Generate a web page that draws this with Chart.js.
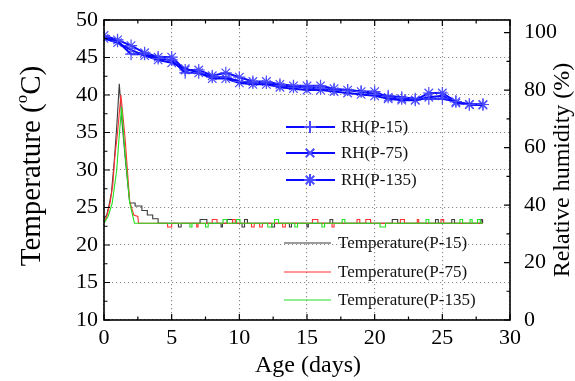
<!DOCTYPE html>
<html><head><meta charset="utf-8">
<script src="https://cdn.jsdelivr.net/npm/chart.js@4/dist/chart.umd.min.js"></script>
<style>html,body{margin:0;padding:0;background:#fff}#wrap{width:575px;height:381px;position:relative}</style>
</head><body><div id="wrap"><canvas id="c" width="575" height="381"></canvas></div>
<script>
// ---- data ----
const days = [0,1,2,3,4,5,6,7,8,9,10,11,12,13,14,15,16,17,18,19,20,21,22,23,24,25,26,27,28];
const rhP15  = [98.5,97,92.5,92.5,91,90.5,86,86,84.5,84.5,83,82.5,82.5,81.5,81,81,80.5,80,80,79.5,78.5,78,77.5,77,77,77,76,75,75];
const rhP75  = [98,96.5,94,92,90.5,89.5,87.5,86,84,84,82.5,82,82,81,80.5,80,80,79.5,79,78.5,78,77,76.5,76.5,77.5,78,75.5,75,74.8];
const rhP135 = [99,97.5,95.5,93,91.5,91.5,87,87,85,86,84.5,83,83,82,81.5,81.5,81.5,80.5,80,79.5,79.5,77.5,77,76.5,79,79,76,75,75];

// temperature: early heat peak (x = day, y = °C)
const tP15PeakX  = [0,0.2,0.35,0.55,0.75,0.95,1.13,1.35,1.6,1.9,2.3,2.3,2.8,2.8,3.2,3.2,3.6,3.6,4.0,4.0];
const tP15PeakY  = [23.5,24,25.1,27,31,36,41.5,36,31,25.6,25.6,25.2,25.2,24.6,24.6,24.0,24.0,23.5,23.5,22.9];
const tP75PeakX  = [0,0.2,0.45,0.65,0.8,1.0,1.25,1.55,1.9,2.2,2.5,2.55];
const tP75PeakY  = [22.9,23.8,25.6,28,31.7,35,40,34.4,25.8,24,23.8,22.9];
const tP135PeakX = [0,0.3,0.6,0.94,1.1,1.3,1.55,1.9,2.25];
const tP135PeakY = [22.9,23.8,25.5,30,34,38.4,32.3,25.6,22.9];
// temperature: baseline level and small logger blips [start day, end day, level]
const tBase = 22.9;
const tP15Blips  = [[5.5,5.7,22.4],[7.1,7.6,23.4],[8.65,8.75,22.4],[9.1,9.5,23.4],[10.2,10.35,22.4],[10.4,10.6,23.4],[12.4,12.6,22.4],[13.7,13.85,22.4],[15.0,15.1,22.4],[16.7,16.9,23.4],[21.3,21.7,23.4],[24.5,24.7,23.4],[25.7,25.9,23.4],[27.85,27.95,23.4]];
const tP75Blips  = [[4.7,5.0,22.4],[6.85,6.95,22.4],[8.0,8.35,23.4],[9.5,9.7,23.4],[10.9,11.1,22.4],[11.5,11.7,22.4],[13.2,13.4,22.4],[15.4,15.8,23.4],[16.85,17.0,22.4],[18.7,18.9,23.4],[19.35,19.7,23.4],[21.9,22.2,23.4],[23.15,23.25,23.4],[24.9,25.1,23.4]];
const tP135Blips = [[6.35,6.5,22.4],[7.5,7.7,22.4],[8.8,9.1,23.4],[9.8,10.05,23.4],[12.1,12.4,22.4],[12.6,12.9,23.4],[14.1,14.3,22.4],[16.1,16.3,22.4],[17.6,17.8,23.4],[20.4,20.8,22.4],[23.8,24.0,23.4],[26.3,26.5,23.4],[27.05,27.2,23.4],[27.6,27.8,23.4]];
const tEndDay = 28;

// ticks
const ageTicks = [0,5,10,15,20,25,30];
const ageMinor = [2.5,7.5,12.5,17.5,22.5,27.5];
const tempTicks = [10,15,20,25,30,35,40,45,50];
const tempMinor = [12.5,17.5,22.5,27.5,32.5,37.5,42.5,47.5];
const rhTicks = [0,20,40,60,80,100];
const rhMinor = [10,30,50,70,90];

const rhLabels = ['RH(P-15)','RH(P-75)','RH(P-135)'];
const tLabels = ['Temperature(P-15)','Temperature(P-75)','Temperature(P-135)'];

// ---- build tables ----
function tempSeries(px, py, blips){
  const pts = px.map((x,i)=>({x, y:py[i]}));
  blips.forEach(([s,e,l])=>{ pts.push({x:s,y:tBase},{x:s,y:l},{x:e,y:l},{x:e,y:tBase}); });
  pts.push({x:tEndDay,y:tBase});
  return pts;
}
const rhPts = arr => days.map((d,i)=>({x:d,y:arr[i]}));

const BLUE='#0a0aff', BLUE_M='#4a4aff';
const T_COLORS=['#3a3a3a','#ff3030','#22e022'];
const serif="'Liberation Serif','Times New Roman',serif";
Chart.defaults.font.family=serif;

const deco={
  id:'deco',
  afterDatasetsDraw(chart){
    const {ctx, chartArea:a, scales:{x,y,y1}}=chart;
    ctx.save();
    // inward ticks
    ctx.strokeStyle='#000'; ctx.lineWidth=1.2; ctx.beginPath();
    const tx=(vals,L)=>vals.forEach(v=>{const p=x.getPixelForValue(v);ctx.moveTo(p,a.bottom);ctx.lineTo(p,a.bottom-L);ctx.moveTo(p,a.top);ctx.lineTo(p,a.top+L);});
    const ty=(vals,L)=>vals.forEach(v=>{const p=y.getPixelForValue(v);ctx.moveTo(a.left,p);ctx.lineTo(a.left+L,p);});
    const tr=(vals,L)=>vals.forEach(v=>{const p=y1.getPixelForValue(v);ctx.moveTo(a.right,p);ctx.lineTo(a.right-L,p);});
    tx(ageTicks,6);tx(ageMinor,3.5);ty(tempTicks,6);ty(tempMinor,3.5);tr(rhTicks,6);tr(rhMinor,3.5);
    ctx.stroke();
    // frame
    ctx.lineWidth=1.6; ctx.strokeRect(a.left,a.top,a.right-a.left,a.bottom-a.top);
    // RH legend
    const rhStyles=['cross','crossRot','star'];
    const rhY=[127,153,180];
    ctx.font='17px '+serif; ctx.textBaseline='middle'; ctx.textAlign='left';
    rhY.forEach((yy,i)=>{
      ctx.strokeStyle=BLUE; ctx.lineWidth=2; ctx.beginPath(); ctx.moveTo(286,yy); ctx.lineTo(335,yy); ctx.stroke();
      ctx.strokeStyle=BLUE_M; ctx.fillStyle=BLUE_M;
      Chart.helpers.drawPoint(ctx,{pointStyle:rhStyles[i],radius:6,borderWidth:1.2,rotation:0},310,yy);
      ctx.fillStyle='#111'; ctx.fillText(rhLabels[i],341,yy+1);
    });
    const tY=[243,272,300];
    ctx.font='17px '+serif;
    tY.forEach((yy,i)=>{
      ctx.strokeStyle=T_COLORS[i]; ctx.lineWidth=1.2; ctx.beginPath(); ctx.moveTo(284,yy); ctx.lineTo(331,yy); ctx.stroke();
      ctx.fillStyle='#111'; ctx.fillText(tLabels[i],338,yy+1);
    });
    // axis titles
    ctx.fillStyle='#000';
    ctx.font='24px '+serif; ctx.textAlign='center'; ctx.textBaseline='middle';
    ctx.fillText('Age (days)',(a.left+a.right)/2+1,366);
    // left title with superscript o
    const F=29;
    ctx.save(); ctx.translate(32,166); ctx.rotate(-Math.PI/2);
    ctx.textAlign='left'; ctx.textBaseline='middle';
    const p1='Temperature (', p2='o', p3='C)';
    ctx.font=F+'px '+serif; const w1=ctx.measureText(p1).width, w3=ctx.measureText(p3).width;
    ctx.font=Math.round(F*0.6)+'px '+serif; const w2=ctx.measureText(p2).width;
    let sx=-(w1+w2+w3)/2;
    ctx.font=F+'px '+serif; ctx.fillText(p1,sx,0); sx+=w1;
    ctx.font=Math.round(F*0.6)+'px '+serif; ctx.fillText(p2,sx,-F*0.32); sx+=w2;
    ctx.font=F+'px '+serif; ctx.fillText(p3,sx,0);
    ctx.restore();
    ctx.save(); ctx.translate(563,170); ctx.rotate(-Math.PI/2);
    ctx.font='24px '+serif; ctx.textAlign='center'; ctx.textBaseline='middle';
    ctx.fillText('Relative humidity (%)',0,0);
    ctx.restore();
    ctx.restore();
  }
};

const gridCommon={color:'#8c8c8c',lineWidth:1.1,drawTicks:false};
const rhDs=(lab,arr,style)=>({label:lab,data:rhPts(arr),yAxisID:'y1',borderColor:BLUE,borderWidth:2,pointStyle:style,pointRadius:6,pointBorderColor:BLUE_M,pointBorderWidth:1.2,pointBackgroundColor:BLUE_M});
new Chart(document.getElementById('c'),{
  type:'line',
  data:{datasets:[
    rhDs(rhLabels[0],rhP15,'cross'),
    rhDs(rhLabels[1],rhP75,'crossRot'),
    rhDs(rhLabels[2],rhP135,'star'),
    {label:tLabels[2],data:tempSeries(tP135PeakX,tP135PeakY,tP135Blips),yAxisID:'y',borderColor:T_COLORS[2],borderWidth:1.1,pointRadius:0},
    {label:tLabels[1],data:tempSeries(tP75PeakX,tP75PeakY,tP75Blips),yAxisID:'y',borderColor:T_COLORS[1],borderWidth:1.1,pointRadius:0},
    {label:tLabels[0],data:tempSeries(tP15PeakX,tP15PeakY,tP15Blips),yAxisID:'y',borderColor:T_COLORS[0],borderWidth:1.1,pointRadius:0}
  ]},
  options:{
    responsive:false,animation:false,devicePixelRatio:1,
    layout:{padding:{top:20,left:0,right:0,bottom:0}},
    plugins:{legend:{display:false},tooltip:{enabled:false}},
    elements:{line:{tension:0}},
    scales:{
      x:{type:'linear',min:0,max:30,
        afterBuildTicks:s=>{s.ticks=ageTicks.map(v=>({value:v}));},
        afterFit:s=>{s.height=61;},
        ticks:{font:{size:22},color:'#000',padding:5,maxRotation:0,autoSkip:false},
        grid:gridCommon,border:{display:false,dash:[1.2,2.8]}},
      y:{type:'linear',position:'left',min:10,max:50,
        afterBuildTicks:s=>{s.ticks=tempTicks.map(v=>({value:v}));},
        afterFit:s=>{s.width=104;},
        ticks:{font:{size:22},color:'#000',padding:6,autoSkip:false},
        grid:gridCommon,border:{display:false,dash:[1.2,2.8]}},
      y1:{type:'linear',position:'right',min:0,max:104.4,
        afterBuildTicks:s=>{s.ticks=rhTicks.map(v=>({value:v}));},
        afterFit:s=>{s.width=65;},
        ticks:{font:{size:22},color:'#000',padding:6,autoSkip:false},
        grid:{display:false},border:{display:false}}
    }
  },
  plugins:[deco]
});
</script></body></html>
